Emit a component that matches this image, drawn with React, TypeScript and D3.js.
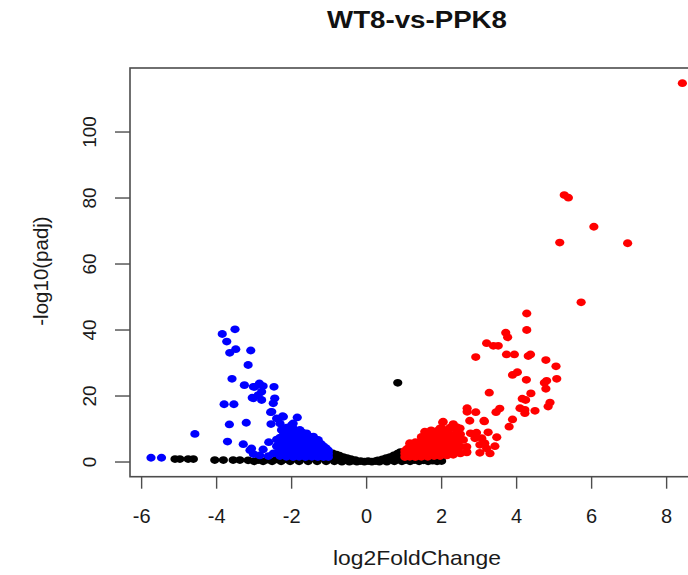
import React, { useEffect, useRef } from 'react';
import * as d3 from 'd3';

// volcano plot: log2FoldChange vs -log10(padj)
const title = 'WT8-vs-PPK8';
const xLabel = 'log2FoldChange';
const yLabel = '-log10(padj)';
const xTicks = [-6, -4, -2, 0, 2, 4, 6, 8];
const yTicks = [0, 20, 40, 60, 80, 100];

// not significant genes (black)
const notSig: [number, number][] = [
  [-5.11, 0.9], [-4.98, 0.9], [-4.76, 0.9], [-4.62, 0.9],
  [-4.05, 0.6], [-3.82, 0.6], [-3.56, 0.6], [-3.38, 0.6], [-3.16, 0.5],
  [-3.0, 0.2], [-2.88, 0.6], [-2.76, 0.2], [-2.64, 0.7], [-2.52, 0.2], [-2.4, 0.8],
  [-2.28, 0.2], [-2.16, 0.9], [-2.04, 0.2], [-1.92, 1.0], [-1.8, 0.2], [-1.68, 1.1],
  [-1.56, 0.2], [-1.44, 1.2], [-1.32, 0.2], [-1.2, 1.3], [-1.08, 0.2], [-0.96, 1.2],
  [-0.86, 0.2], [-0.76, 0.9], [-0.66, 0.1], [-0.56, 0.6], [-0.46, 0.1], [-0.36, 0.4],
  [-0.26, 0.1], [-0.16, 0.3], [-0.06, 0.1], [0.04, 0.3], [0.14, 0.1], [0.24, 0.3],
  [0.34, 0.1], [0.44, 0.5], [0.54, 0.1], [0.64, 0.8], [0.74, 0.2], [0.84, 1.1],
  [0.94, 0.2], [1.04, 0.6], [1.16, 0.2], [1.28, 0.6], [1.4, 0.2], [1.52, 0.5],
  [1.64, 0.2], [1.76, 0.4], [1.88, 0.2], [2.0, 0.3],
  [-1.9, 2.2], [-1.6, 2.4], [-1.3, 2.6], [-1.0, 2.8], [-0.9, 2.6], [-0.9, 1.8],
  [-0.8, 2.2], [-0.72, 1.9], [-0.62, 1.5], [-0.52, 1.2], [-0.42, 0.9],
  [-0.3, 0.6], [0.3, 0.5], [0.42, 0.8], [0.52, 1.2], [0.62, 1.5], [0.72, 2.0],
  [0.82, 2.5], [0.9, 3.0], [0.94, 2.0], [0.78, 1.4],
  [0.83, 24.0]
];

// down-regulated genes (blue)
const downReg: [number, number][] = [
  [-5.75, 1.3], [-5.47, 1.3], [-4.58, 8.5],
  [-3.85, 38.8], [-3.51, 40.2], [-3.73, 36.5], [-3.65, 33.1], [-3.49, 34.2],
  [-3.09, 33.8], [-3.16, 29.4], [-3.59, 25.2], [-3.26, 23.3], [-3.02, 22.8],
  [-2.98, 22.8], [-2.86, 23.8], [-2.76, 23.0], [-2.47, 22.8], [-2.8, 21.3],
  [-2.89, 20.3], [-3.02, 19.3], [-2.8, 18.8], [-2.45, 19.3], [-2.49, 17.8],
  [-3.05, 19.5], [-3.8, 17.5], [-3.54, 17.5], [-2.56, 15.1], [-2.53, 15.2],
  [-2.24, 13.9], [-2.4, 13.2], [-1.85, 13.5], [-2.22, 13.7], [-2.55, 11.5],
  [-3.66, 11.4], [-3.21, 11.9], [-2.0, 11.2], [-2.31, 11.7], [-1.96, 11.7],
  [-2.27, 9.7], [-1.78, 9.7], [-1.6, 8.7], [-1.42, 7.7], [-1.29, 6.7],
  [-2.61, 6.0], [-3.71, 6.2], [-3.29, 5.4], [-3.11, 3.6], [-3.07, 4.1],
  [-2.76, 3.8], [-3.02, 2.4], [-2.49, 2.6], [-2.62, 1.8], [-2.85, 2.0],
  [-1.02, 1.5], [-1.02, 2.5], [-1.02, 3.5], [-1.08, 2.0], [-1.08, 4.2],
  [-1.15, 1.5], [-1.15, 3.0], [-1.15, 4.8], [-1.22, 2.2], [-1.22, 3.8], [-1.22, 5.5],
  [-1.3, 1.5], [-1.3, 3.0], [-1.3, 4.5], [-1.3, 6.2],
  [-1.38, 2.0], [-1.38, 3.6], [-1.38, 5.2], [-1.38, 6.8],
  [-1.46, 1.6], [-1.46, 3.2], [-1.46, 4.8], [-1.46, 6.0], [-1.46, 7.6],
  [-1.55, 2.2], [-1.55, 3.8], [-1.55, 5.4], [-1.55, 7.0],
  [-1.63, 1.5], [-1.63, 3.0], [-1.63, 4.6], [-1.63, 6.4], [-1.63, 8.4],
  [-1.72, 2.4], [-1.72, 4.0], [-1.72, 5.6], [-1.72, 7.4], [-1.72, 9.0],
  [-1.8, 1.6], [-1.8, 3.2], [-1.8, 4.8], [-1.8, 6.6], [-1.8, 8.2],
  [-1.88, 2.2], [-1.88, 4.0], [-1.88, 5.8], [-1.88, 7.4], [-1.88, 9.0],
  [-1.96, 1.5], [-1.96, 3.2], [-1.96, 5.0], [-1.96, 6.8], [-1.96, 8.4], [-1.96, 10.2],
  [-2.05, 2.4], [-2.05, 4.2], [-2.05, 6.0], [-2.05, 7.8], [-2.05, 9.6],
  [-2.14, 1.6], [-2.14, 3.4], [-2.14, 5.2], [-2.14, 7.0], [-2.14, 8.8], [-2.14, 10.4],
  [-2.22, 2.6], [-2.22, 4.6], [-2.22, 6.4], [-2.22, 8.2],
  [-2.31, 1.8], [-2.31, 3.6], [-2.31, 5.6], [-2.31, 7.4],
  [-2.4, 2.8], [-2.4, 4.8], [-2.4, 6.8]
];

// up-regulated genes (red)
const upReg: [number, number][] = [
  [8.42, 114.8], [5.27, 80.9], [5.38, 80.1], [6.06, 71.3], [5.15, 66.5],
  [6.96, 66.3], [5.72, 48.4],
  [4.27, 45.0], [4.27, 40.0], [3.71, 39.2], [3.76, 37.8], [3.2, 36.0], [3.38, 35.2],
  [3.51, 35.2], [2.91, 31.8], [3.73, 32.6], [3.94, 32.6], [4.31, 32.1], [4.37, 32.6],
  [4.78, 30.9], [5.05, 29.0], [3.89, 26.4], [4.02, 27.2], [4.26, 24.9], [5.07, 25.2],
  [4.74, 24.0], [4.8, 24.6], [4.78, 22.2], [3.27, 21.0], [4.38, 20.8], [4.15, 19.2],
  [4.24, 18.8], [4.89, 18.0], [4.84, 16.8], [2.68, 16.3], [2.68, 15.2], [2.91, 15.1],
  [3.45, 15.1], [3.55, 16.2], [4.09, 16.3], [4.22, 15.8], [4.22, 14.8], [4.49, 15.5],
  [2.75, 12.5], [3.13, 12.5], [3.89, 12.9], [3.8, 10.7], [2.49, 10.2],
  [2.77, 8.7], [2.93, 8.9], [3.24, 9.0], [2.89, 7.2], [3.07, 7.2], [3.47, 7.5],
  [3.15, 5.7], [3.42, 4.8], [3.2, 4.1], [2.67, 3.1], [3.02, 2.8],
  [2.03, 12.0], [2.31, 11.5], [2.35, 10.2], [2.04, 12.2], [3.14, 12.3],
  [2.58, 6.7], [2.67, 4.6], [3.02, 5.2], [3.29, 2.6],
  [1.02, 1.5], [1.02, 2.5], [1.02, 3.4], [1.08, 2.0], [1.08, 4.0],
  [1.15, 1.6], [1.15, 3.0], [1.15, 4.8], [1.15, 5.7], [1.22, 2.3], [1.22, 3.8],
  [1.3, 1.5], [1.3, 3.0], [1.3, 4.5], [1.3, 6.0],
  [1.38, 2.2], [1.38, 3.8], [1.38, 5.4],
  [1.46, 1.6], [1.46, 3.2], [1.46, 4.8], [1.46, 6.4], [1.46, 7.6],
  [1.55, 2.4], [1.55, 4.0], [1.55, 5.6], [1.55, 7.2], [1.55, 9.2],
  [1.63, 1.6], [1.63, 3.2], [1.63, 4.8], [1.63, 6.4], [1.63, 8.0],
  [1.72, 2.4], [1.72, 4.0], [1.72, 5.6], [1.72, 7.4], [1.72, 9.6],
  [1.8, 1.8], [1.8, 3.4], [1.8, 5.0], [1.8, 6.8], [1.8, 8.4],
  [1.88, 2.6], [1.88, 4.2], [1.88, 6.0], [1.88, 7.8], [1.88, 9.4],
  [1.96, 1.8], [1.96, 3.4], [1.96, 5.2], [1.96, 7.0], [1.96, 8.6], [1.96, 10.2],
  [2.05, 2.6], [2.05, 4.4], [2.05, 6.2], [2.05, 8.0], [2.05, 9.8],
  [2.14, 2.0], [2.14, 3.8], [2.14, 5.6], [2.14, 7.4], [2.14, 9.2],
  [2.22, 3.0], [2.22, 4.8], [2.22, 6.6], [2.22, 8.4], [2.22, 10.4],
  [2.31, 2.2], [2.31, 4.2], [2.31, 6.0], [2.31, 7.8],
  [2.4, 3.2], [2.4, 5.2], [2.4, 7.2], [2.4, 9.0], [2.4, 10.6],
  [2.5, 2.6], [2.5, 4.6], [2.5, 6.6], [2.5, 8.4], [2.67, 2.9]
];

const VolcanoPlot = () => {
  const ref = useRef<SVGSVGElement | null>(null);

  useEffect(() => {
    if (!ref.current) return;
    const svg = d3.select(ref.current);
    svg.selectAll('*').remove();

    const left = 130, right = 703, top = 68, bottom = 476.7;
    const x = d3.scaleLinear().domain([-6.31, 8.97]).range([left, right]);
    const y = d3.scaleLinear().domain([-4.45, 119.4]).range([bottom, top]);
    const font = '"Liberation Sans", Arial, Helvetica, sans-serif';

    // points: black first, then coloured on top
    const groups: [[number, number][], string][] = [
      [notSig, '#000000'],
      [downReg, '#0000ff'],
      [upReg, '#ff0000']
    ];
    groups.forEach(([pts, col]) => {
      svg.append('g')
        .selectAll('ellipse')
        .data(pts)
        .enter()
        .append('ellipse')
        .attr('cx', d => x(d[0]))
        .attr('cy', d => y(d[1]))
        .attr('rx', 4.6)
        .attr('ry', 3.9)
        .attr('fill', col);
    });

    // box (right side runs past the picture edge)
    svg.append('rect')
      .attr('x', left)
      .attr('y', top)
      .attr('width', right - left)
      .attr('height', bottom - top)
      .attr('fill', 'none')
      .attr('stroke', '#4d4d4d')
      .attr('stroke-width', 1.6);

    // x axis
    svg.append('g')
      .selectAll('line')
      .data(xTicks)
      .enter()
      .append('line')
      .attr('x1', d => x(d)).attr('x2', d => x(d))
      .attr('y1', bottom).attr('y2', bottom + 12)
      .attr('stroke', '#4d4d4d')
      .attr('stroke-width', 1.4);

    svg.append('g')
      .selectAll('text')
      .data(xTicks)
      .enter()
      .append('text')
      .attr('x', d => x(d))
      .attr('y', 523)
      .attr('text-anchor', 'middle')
      .style('font-family', font)
      .style('font-size', '20px')
      .style('fill', '#1a1a1a')
      .text(d => String(d));

    // y axis
    svg.append('g')
      .selectAll('line')
      .data(yTicks)
      .enter()
      .append('line')
      .attr('x1', left - 15).attr('x2', left)
      .attr('y1', d => y(d)).attr('y2', d => y(d))
      .attr('stroke', '#4d4d4d')
      .attr('stroke-width', 1.4);

    svg.append('g')
      .selectAll('text')
      .data(yTicks)
      .enter()
      .append('text')
      .attr('transform', d => `translate(96, ${y(d)}) rotate(-90)`)
      .attr('text-anchor', 'middle')
      .style('font-family', font)
      .style('font-size', '19px')
      .style('fill', '#1a1a1a')
      .text(d => String(d));

    // labels
    svg.append('text')
      .attr('x', 417)
      .attr('y', 28)
      .attr('text-anchor', 'middle')
      .attr('textLength', 180)
      .attr('lengthAdjust', 'spacingAndGlyphs')
      .style('font-family', font)
      .style('font-size', '23px')
      .style('font-weight', 'bold')
      .style('fill', '#111')
      .text(title);

    svg.append('text')
      .attr('x', 417)
      .attr('y', 565)
      .attr('text-anchor', 'middle')
      .attr('textLength', 168)
      .attr('lengthAdjust', 'spacingAndGlyphs')
      .style('font-family', font)
      .style('font-size', '21px')
      .style('fill', '#1a1a1a')
      .text(xLabel);

    svg.append('text')
      .attr('transform', 'translate(48, 271) rotate(-90)')
      .attr('text-anchor', 'middle')
      .style('font-family', font)
      .style('font-size', '20.5px')
      .style('fill', '#1a1a1a')
      .text(yLabel);
  }, []);

  return (
    <svg
      ref={ref}
      width={688}
      height={575}
      style={{ position: 'absolute', left: 0, top: 0, background: '#fff' }}
    />
  );
};

export default function App() {
  return <VolcanoPlot />;
}
